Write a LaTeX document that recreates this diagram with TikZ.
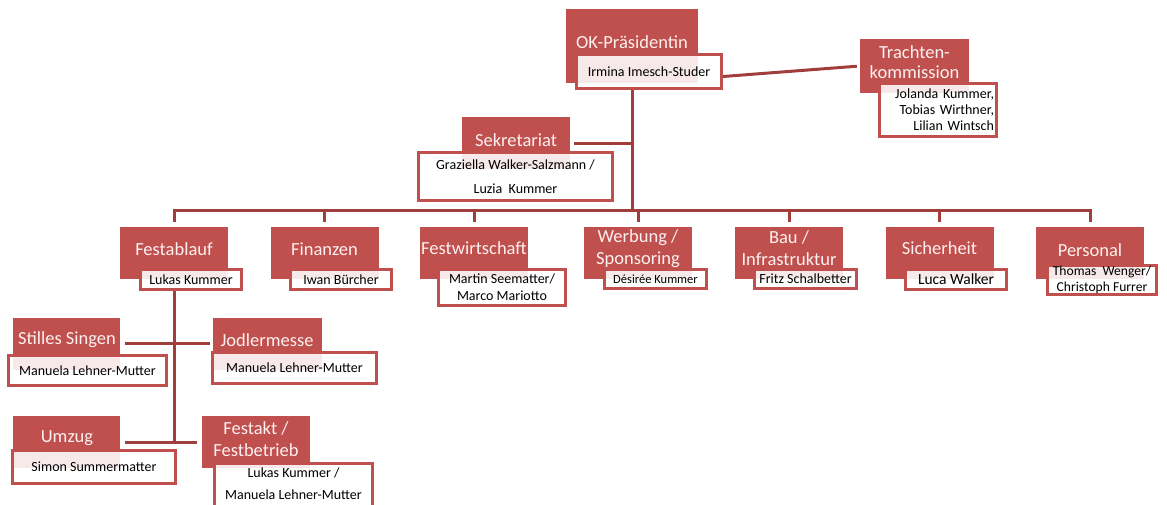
\documentclass[tikz,border=0pt]{standalone}
\usepackage{fontspec}
\setmainfont{Carlito}
\usepackage{xcolor}
\definecolor{okred}{RGB}{192,80,77}
\definecolor{linkred}{RGB}{160,62,60}
\definecolor{titlewhite}{RGB}{252,240,240}

\begin{document}
\begin{tikzpicture}[x=1pt,y=-1pt,
  redbox/.style={fill=okred, inner sep=0pt, minimum width=108pt, minimum height=52pt},
  titletext/.style={text=titlewhite, inner sep=0pt, align=center, font=\fontsize{18.5}{21.5}\selectfont},
  namebox/.style={draw=okred, line width=2.6pt, fill=white, fill opacity=0.88, text opacity=1,
    text=black, inner sep=1pt, align=center, font=\fontsize{14}{17}\selectfont},
  link/.style={draw=linkred, line width=3pt}]

\useasboundingbox (0,0) rectangle (1167,504);
\clip (0,0) rectangle (1167,504);

%OK-Praesidentin
\node[redbox, minimum width=132pt, minimum height=74pt] (ok) at (632,46) {};
\node[titletext] (okT) at (632,42) {OK-Präsidentin};
\node[namebox, minimum width=145.4pt, minimum height=34.4pt] (okN) at (649,71.5) {Irmina Imesch-Studer};

%Trachtenkommission
\node[redbox, minimum width=109pt, minimum height=54pt] (tk) at (914.5,66) {};
\node[titletext, font=\fontsize{18.5}{20}\selectfont] (tkT) at (914.5,62) {Trachten-\\kommission};
\node[namebox, minimum width=117.4pt, minimum height=53.4pt, text width=112pt, align=right,
  inner sep=0pt, font=\fontsize{14}{16}\selectfont] (tkN) at (938,110) {Jolanda Kummer,\\Tobias Wirthner,\\Lilian Wintsch};

%Sekretariat
\node[redbox] (sk) at (516,143) {};
\node[titletext] (skT) at (516,140) {Sekretariat};
\node[namebox, minimum width=194.4pt, minimum height=48.4pt, font=\fontsize{14}{23.5}\selectfont] (skN) at (515.5,176.5) {Graziella Walker-Salzmann /\\Luzia\ \ Kummer};

%Ressorts
\node[redbox] (fa) at (174,253) {};
\node[titletext] (faT) at (174,249) {Festablauf};
\node[namebox, minimum width=101.4pt, minimum height=20.4pt] (faN) at (191,279.5) {Lukas Kummer};

\node[redbox] (fi) at (324.5,253) {};
\node[titletext] (fiT) at (324.5,249) {Finanzen};
\node[namebox, minimum width=101.4pt, minimum height=20.4pt] (fiN) at (341,279.5) {Iwan Bürcher};

\node[redbox] (fw) at (474,253) {};
\node[titletext] (fwT) at (474,248) {Festwirtschaft};
\node[namebox, minimum width=127.4pt, minimum height=36.4pt] (fwN) at (502,287.5) {Martin Seematter/\\Marco Mariotto};

\node[redbox] (wb) at (638,253) {};
\node[titletext] (wbT) at (638,248.5) {Werbung /\\Sponsoring};
\node[namebox, minimum width=102.4pt, minimum height=19.4pt, font=\fontsize{12.5}{15}\selectfont] (wbN) at (655.5,279) {Désirée Kummer};

\node[redbox] (bau) at (789,253) {};
\node[titletext] (bauT) at (789,248) {Bau /\\Infrastruktur};
\node[namebox, minimum width=102.4pt, minimum height=19.4pt] (bauN) at (805.5,279) {Fritz Schalbetter};

\node[redbox] (si) at (939.5,253) {};
\node[titletext] (siT) at (939.5,248) {Sicherheit};
\node[namebox, minimum width=101.4pt, minimum height=20.4pt, font=\fontsize{15.5}{18}\selectfont] (siN) at (956,279.5) {Luca Walker};

\node[redbox] (pe) at (1090,253) {};
\node[titletext] (peT) at (1090,250) {Personal};
\node[namebox, minimum width=109.4pt, minimum height=29.4pt, inner sep=0pt, font=\fontsize{13.6}{16.5}\selectfont] (peN) at (1102,280) {Thomas\ \ Wenger/\\Christoph Furrer};

%Festablauf
\node[redbox, minimum width=107pt] (ss) at (66.5,343.5) {};
\node[titletext] (ssT) at (67,340) {Stilles Singen};
\node[namebox, minimum width=158.4pt, minimum height=30.4pt] (ssN) at (87.5,370.5) {Manuela Lehner-Mutter};

\node[redbox, minimum width=109pt] (jm) at (267.5,343.5) {};
\node[titletext] (jmT) at (267,340) {Jodlermesse};
\node[namebox, minimum width=164.4pt, minimum height=31.4pt] (jmN) at (294.5,368) {Manuela Lehner-Mutter};

\node[redbox, minimum width=107pt] (um) at (66.5,442) {};
\node[titletext] (umT) at (67,438) {Umzug};
\node[namebox, minimum width=163.4pt, minimum height=33.4pt] (umN) at (94,467) {Simon Summermatter};

\node[redbox] (fk) at (256,442) {};
\node[titletext, font=\fontsize{18.5}{22}\selectfont] (fkT) at (256,439) {Festakt /\\Festbetrieb};
\node[namebox, minimum width=158.4pt, minimum height=47.4pt] (fkN) at (293.5,487) {};
\node[font=\fontsize{14}{22}\selectfont, align=center, inner sep=0pt] (fkL) at (293.5,484) {Lukas Kummer /\\Manuela Lehner-Mutter};

%Draw the links
\coordinate (hub) at (632,210);
\draw[link] (okN.south -| ok) -- (hub);
\draw[link, shorten <=4pt] (sk.east) -- (sk.east -| ok);
\draw[link, shorten >=3pt] ([yshift=-5pt]okN.east) -- (tk.west);
\draw[link, shorten <=5pt, shorten >=5pt] (fa.north) -- (fa |- hub) -- (pe |- hub) -- (pe.north);
\foreach \n in {fi,fw,wb,bau,si}
{
	\draw[link, shorten >=5pt] (\n |- hub) -- (\n.north);
}

%Festablauf branches
\draw[link] (faN.south -| fa) -- (um.east -| fa);
\draw[link, shorten <=5pt, shorten >=3pt] (ss.east) -- (jm.west);
\draw[link, shorten <=5pt, shorten >=5pt] (um.east) -- (fk.west);
\end{tikzpicture}
\end{document}
